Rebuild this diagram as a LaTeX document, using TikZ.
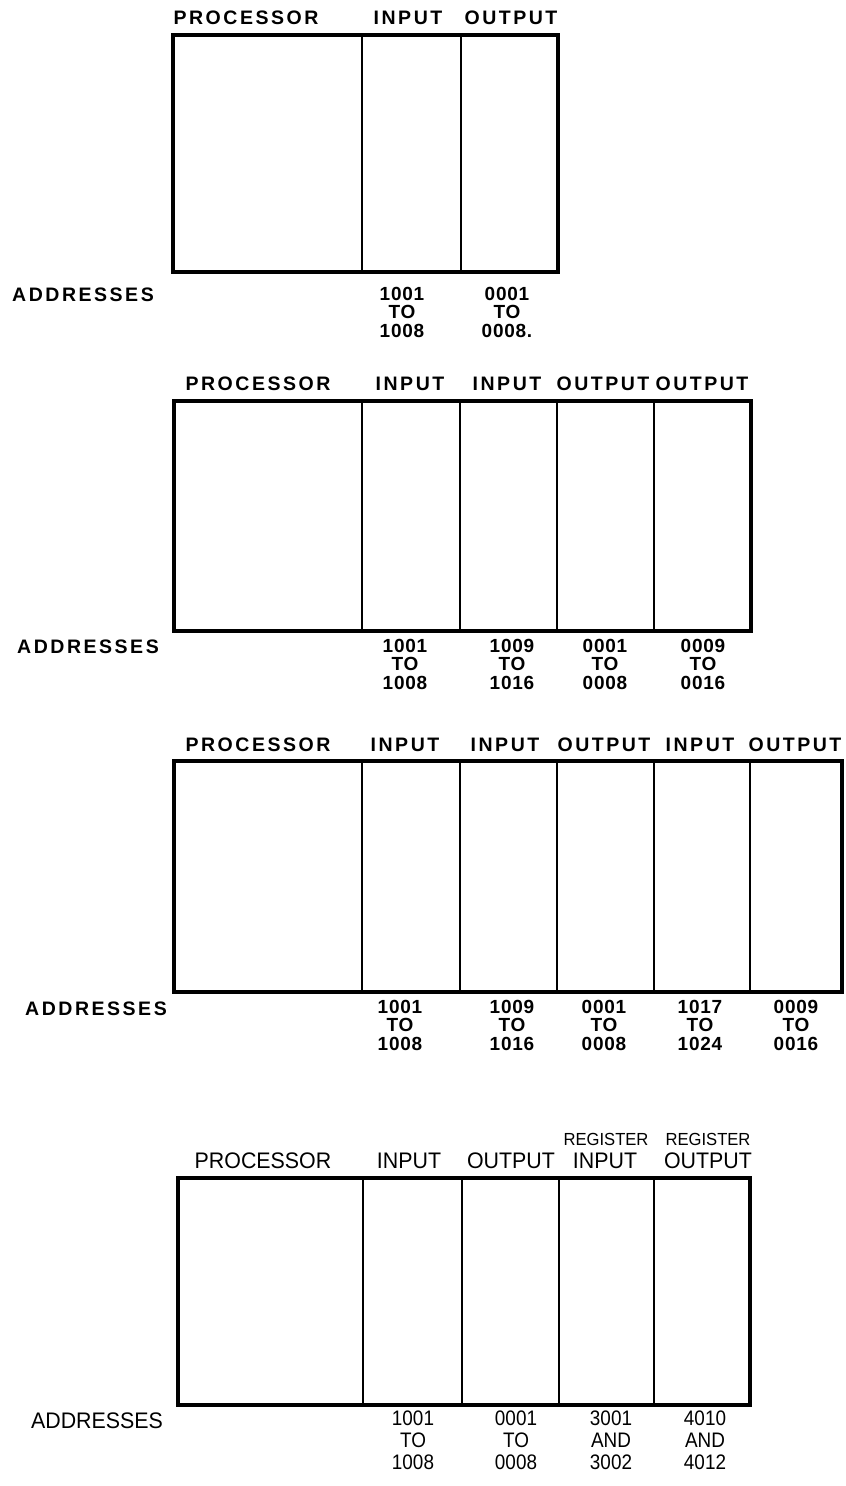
\documentclass[tikz,border=0pt]{standalone}
\usepackage{fontspec}
\setmainfont{Liberation Sans}
\newfontfamily\lblfont[LetterSpace=13]{Liberation Sans Bold}
\newfontfamily\numfont[LetterSpace=4]{Liberation Sans Bold}
\newfontfamily\cndfont{Liberation Sans}
\usetikzlibrary{fit}
\begin{document}
\begin{tikzpicture}[x=1pt,y=-1pt,
  lbl/.style={font=\lblfont\fontsize{19.5}{19.5}\selectfont, inner sep=0pt},
  addr/.style={font=\numfont\fontsize{19}{18.5}\selectfont, align=center, inner sep=0pt, anchor=north},
  lblc/.style={font=\cndfont\fontsize{22.5}{22.5}\selectfont, inner sep=0pt, xscale=0.95, transform shape},
  regc/.style={font=\cndfont\fontsize{17.5}{17.5}\selectfont, inner sep=0pt, xscale=0.95, transform shape},
  addrc/.style={font=\cndfont\fontsize{21}{22}\selectfont, align=center, inner sep=0pt, anchor=north, xscale=0.9, transform shape},
  cell/.style={draw, line width=2.6pt, inner sep=0pt},
  frame/.style={draw, line width=4.4pt, inner sep=0pt}]
\useasboundingbox (0,0) rectangle (846,1486);

% ---------- Diagram 1 ----------
\node[cell, fit={(173,35) (362,272)}] (a1) {};
\node[cell, fit={(362,35) (461,272)}] (a2) {};
\node[cell, fit={(461,35) (558,272)}] (a3) {};
\node[frame, fit={(173,35) (558,272)}] (abox) {};
\node[lbl] (al1) at (246,18) {PROCESSOR};
\node[lbl] (al2) at (408,18) {INPUT};
\node[lbl] (al3) at (511,18) {OUTPUT};
\node[lbl] (aad) at (83,295) {ADDRESSES};
\node[addr] (ad2) at (402,287) {1001\\TO\\1008};
\node[addr] (ad3) at (507,287) {0001\\TO\\0008.};

% ---------- Diagram 2 ----------
\node[cell, fit={(174,401) (362,631)}] (b1) {};
\node[cell, fit={(362,401) (460,631)}] (b2) {};
\node[cell, fit={(460,401) (557,631)}] (b3) {};
\node[cell, fit={(557,401) (654,631)}] (b4) {};
\node[cell, fit={(654,401) (751,631)}] (b5) {};
\node[frame, fit={(174,401) (751,631)}] (bbox) {};
\node[lbl] (bl1) at (258,384) {PROCESSOR};
\node[lbl] (bl2) at (410,384) {INPUT};
\node[lbl] (bl3) at (507,384) {INPUT};
\node[lbl] (bl4) at (603,384) {OUTPUT};
\node[lbl] (bl5) at (702,384) {OUTPUT};
\node[lbl] (bad) at (88,647) {ADDRESSES};
\node[addr] (bd2) at (405,639) {1001\\TO\\1008};
\node[addr] (bd3) at (512,639) {1009\\TO\\1016};
\node[addr] (bd4) at (605,639) {0001\\TO\\0008};
\node[addr] (bd5) at (703,639) {0009\\TO\\0016};

% ---------- Diagram 3 ----------
\node[cell, fit={(174,761) (362,992)}] (c1) {};
\node[cell, fit={(362,761) (460,992)}] (c2) {};
\node[cell, fit={(460,761) (557,992)}] (c3) {};
\node[cell, fit={(557,761) (654,992)}] (c4) {};
\node[cell, fit={(654,761) (750,992)}] (c5) {};
\node[cell, fit={(750,761) (842,992)}] (c6) {};
\node[frame, fit={(174,761) (842,992)}] (cbox) {};
\node[lbl] (cl1) at (258,745) {PROCESSOR};
\node[lbl] (cl2) at (405,745) {INPUT};
\node[lbl] (cl3) at (505,745) {INPUT};
\node[lbl] (cl4) at (604,745) {OUTPUT};
\node[lbl] (cl5) at (700,745) {INPUT};
\node[lbl] (cl6) at (795,745) {OUTPUT};
\node[lbl] (cad) at (96,1009) {ADDRESSES};
\node[addr] (cd2) at (400,1000) {1001\\TO\\1008};
\node[addr] (cd3) at (512,1000) {1009\\TO\\1016};
\node[addr] (cd4) at (604,1000) {0001\\TO\\0008};
\node[addr] (cd5) at (700,1000) {1017\\TO\\1024};
\node[addr] (cd6) at (796,1000) {0009\\TO\\0016};

% ---------- Diagram 4 ----------
\node[cell, fit={(178,1178) (363,1405)}] (e1) {};
\node[cell, fit={(363,1178) (462,1405)}] (e2) {};
\node[cell, fit={(462,1178) (559,1405)}] (e3) {};
\node[cell, fit={(559,1178) (654,1405)}] (e4) {};
\node[cell, fit={(654,1178) (750,1405)}] (e5) {};
\node[frame, fit={(178,1178) (750,1405)}] (ebox) {};
\node[lblc] (el1) at (263,1161) {PROCESSOR};
\node[lblc] (el2) at (409,1161) {INPUT};
\node[lblc] (el3) at (511,1161) {OUTPUT};
\node[regc] (er4) at (606,1139) {REGISTER};
\node[lblc] (el4) at (605,1161) {INPUT};
\node[regc] (er5) at (708,1139) {REGISTER};
\node[lblc] (el5) at (708,1161) {OUTPUT};
\node[lblc] (ead) at (97,1421) {ADDRESSES};
\node[addrc] (ed2) at (413,1411) {1001\\TO\\1008};
\node[addrc] (ed3) at (516,1411) {0001\\TO\\0008};
\node[addrc] (ed4) at (611,1411) {3001\\AND\\3002};
\node[addrc] (ed5) at (705,1411) {4010\\AND\\4012};
\end{tikzpicture}
\end{document}
